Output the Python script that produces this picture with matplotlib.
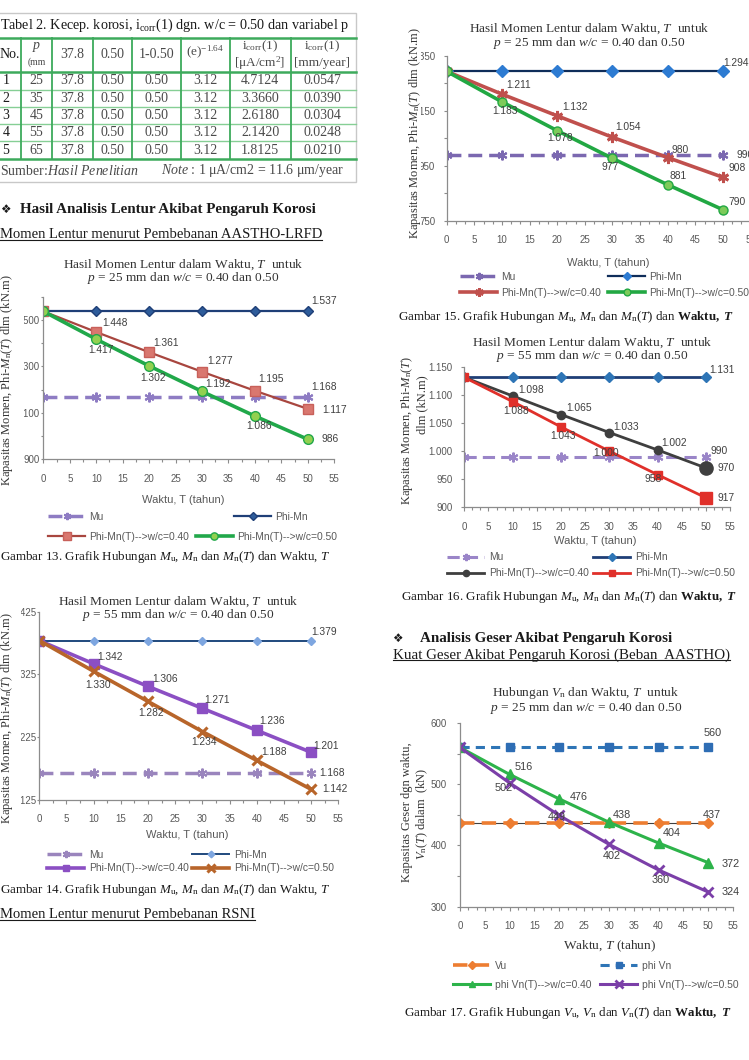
import matplotlib
matplotlib.use("Agg")
import matplotlib.pyplot as plt
from matplotlib.legend import Legend
from matplotlib.patches import Rectangle
from matplotlib.ticker import FixedLocator, FuncFormatter, MultipleLocator
from matplotlib.transforms import Bbox, TransformedBbox

plt.rcParams['font.family'] = ['Liberation Sans', 'DejaVu Sans']
plt.rcParams['mathtext.fontset'] = 'custom'
plt.rcParams['mathtext.rm'] = 'Liberation Serif'
plt.rcParams['mathtext.it'] = 'Liberation Serif:italic'
plt.rcParams['mathtext.bf'] = 'Liberation Serif:bold'
try:
    plt.rcParams['mathtext.bfit'] = 'Liberation Serif:italic:bold'
    BFIT = True
except KeyError:
    BFIT = False

# ---------------- data ----------------
T_YEARS = [0, 10, 20, 30, 40, 50]

G13_MU = [1168, 1168, 1168, 1168, 1168, 1168]
G13_PHI_MN = [1537, 1537, 1537, 1537, 1537, 1537]
G13_WC040 = [1537, 1448, 1361, 1277, 1195, 1117]
G13_WC050 = [1537, 1417, 1302, 1192, 1086, 986]

G14_MU = [1168, 1168, 1168, 1168, 1168, 1168]
G14_PHI_MN = [1379, 1379, 1379, 1379, 1379, 1379]
G14_WC040 = [1379, 1342, 1306, 1271, 1236, 1201]
G14_WC050 = [1379, 1330, 1282, 1234, 1188, 1142]

G15_MU = [990, 990, 990, 990, 990, 990]
G15_PHI_MN = [1294, 1294, 1294, 1294, 1294, 1294]
G15_WC040 = [1294, 1211, 1132, 1054, 980, 908]
G15_WC050 = [1294, 1183, 1078, 977, 881, 790]

G16_MU = [990, 990, 990, 990, 990, 990]
G16_PHI_MN = [1131, 1131, 1131, 1131, 1131, 1131]
G16_WC040 = [1131, 1098, 1065, 1033, 1002, 970]
G16_WC050 = [1131, 1088, 1043, 1000, 958, 917]

G17_VU = [437, 437, 437, 437, 437, 437]
G17_PHI_VN = [560, 560, 560, 560, 560, 560]
G17_WC040 = [560, 516, 476, 438, 404, 372]
G17_WC050 = [560, 502, 449, 402, 360, 324]

TABLE_NO = [1, 2, 3, 4, 5]
TABLE_P = [25, 35, 45, 55, 65]
TABLE_C = [37.8, 37.8, 37.8, 37.8, 37.8]
TABLE_WC = [0.50, 0.50, 0.50, 0.50, 0.50]
TABLE_1WC = [0.50, 0.50, 0.50, 0.50, 0.50]
TABLE_E = [3.12, 3.12, 3.12, 3.12, 3.12]
TABLE_ICORR_UA = ["4.7124", "3.3660", "2.6180", "2.1420", "1.8125"]
TABLE_ICORR_MM = ["0.0547", "0.0390", "0.0304", "0.0248", "0.0210"]

# ---------------- page ----------------
W, H = 749, 1060
SERIF = ['Liberation Serif', 'DejaVu Serif']
SANS = ['Liberation Sans', 'DejaVu Sans']
TICK_C = '#595959'
LBL_C = '#404040'
PT = 72 / 100  # points per pixel

fig = plt.figure(figsize=(W / 100, H / 100), dpi=100)
fig.patch.set_facecolor('white')
page = fig.add_axes([0, 0, 1, 1])
page.set_xlim(0, W)
page.set_ylim(H, 0)
page.axis('off')
page.set_zorder(0)


def ptext(x, y, s, size=9, family=SERIF, ha='left', va='center', color='#1a1a1a', **kw):
    return page.text(x, y, s, fontsize=size, family=family, ha=ha, va=va, color=color, **kw)


def fmt(v):
    return f"{v:,}".replace(",", ".")


# ---------------- table ----------------
GREEN = '#3DAA5C'
GREEN_L = '#86CF95'
TXT_T = '#4a4a4a'
page.add_patch(Rectangle((-2, 12.7), 358, 169, fill=False, ec='#C8C8C8', lw=1.0))
col_x = [-2, 20.7, 52.3, 92.7, 132.3, 181, 230, 290.7, 356]
row_y = [38.3, 71.7, 89.5, 106.8, 124.0, 141.2, 158.7]
for i, y in enumerate(row_y):
    thick = i in (0, 1, len(row_y) - 1)
    page.plot([-2, 356], [y, y], color=GREEN if thick else GREEN_L, lw=1.8 if thick else 1.0)
for x in col_x[1:-1]:
    page.plot([x, x], [38.3, 158.7], color=GREEN, lw=1.3)

TS = 10
ptext(0, 25, "Tabel 2. Kecep. korosi, i$_{\\mathrm{corr}}$(1) dgn. w/c = 0.50 dan variabel p", size=10.2)
hy = 55
ptext(0, hy, "No.", size=TS)
ptext(36.5, 46.7, "$p$", size=TS, ha='center', color=TXT_T)
ptext(36.5, 61.7, "(mm", size=7, ha='center', color=TXT_T)
ptext(72.5, hy, "37.8", size=TS, ha='center', color=TXT_T)
ptext(112.5, hy, "0.50", size=TS, ha='center', color=TXT_T)
ptext(156.7, hy, "1-0.50", size=TS, ha='center', color=TXT_T)
ptext(205.5, 52.7, "(e)$^{-1.64}$", size=9.5, ha='center', color=TXT_T)
ptext(260, 46.7, "i$_{\\mathrm{corr}}$(1)", size=9.5, ha='center', color=TXT_T)
ptext(260, 63.3, "[$\\mathrm{\\mu}$A/cm$^2$]", size=9.5, ha='center', color=TXT_T)
ptext(322, 46.7, "i$_{\\mathrm{corr}}$(1)", size=9.5, ha='center', color=TXT_T)
ptext(322, 63.3, "[mm/year]", size=9.5, ha='center', color=TXT_T)
row_c = [80.7, 98.3, 115.7, 132.7, 150.0]
for i in range(5):
    y = row_c[i]
    ptext(6, y, str(TABLE_NO[i]), size=TS, ha='center')
    ptext(36.5, y, str(TABLE_P[i]), size=TS, ha='center', color=TXT_T)
    ptext(72.5, y, f"{TABLE_C[i]:.1f}", size=TS, ha='center', color=TXT_T)
    ptext(112.5, y, f"{TABLE_WC[i]:.2f}", size=TS, ha='center', color=TXT_T)
    ptext(156.7, y, f"{TABLE_1WC[i]:.2f}", size=TS, ha='center', color=TXT_T)
    ptext(205.5, y, f"{TABLE_E[i]:.2f}", size=TS, ha='center', color=TXT_T)
    ptext(260, y, TABLE_ICORR_UA[i], size=TS, ha='center', color=TXT_T)
    ptext(322, y, TABLE_ICORR_MM[i], size=TS, ha='center', color=TXT_T)
ptext(0, 170.7, "Sumber:$\\mathit{Hasil\\ Penelitian}$", size=TS, color=TXT_T)
ptext(161, 170.7, "$\\mathit{Note}$ : 1 $\\mathrm{\\mu}$A/cm2 = 11.6 $\\mathrm{\\mu}$m/year", size=TS, color=TXT_T)

# ---------------- section headings ----------------
underlines = []
ptext(0, 209.3, "\u2756", size=8.5, family=['DejaVu Sans'])
ptext(20, 209.3, "Hasil Analisis Lentur Akibat Pengaruh Korosi", size=10.8, weight='bold')
underlines.append(ptext(0, 235, "Momen Lentur menurut Pembebanan AASTHO-LRFD", size=10.5))
underlines.append(ptext(0, 915, "Momen Lentur menurut Pembebanan RSNI", size=10.5))
ptext(392, 638.3, "\u2756", size=8.5, family=['DejaVu Sans'])
ptext(420, 638.3, "Analisis Geser Akibat Pengaruh Korosi", size=10.8, weight='bold')
underlines.append(ptext(393, 655, "Kuat Geser Akibat Pengaruh Korosi (Beban  AASTHO)", size=10.8))

# captions
CAP = 9.4
ptext(0, 556.7, "Gambar 13. Grafik Hubungan $M_{\\mathrm{u}}$, $M_{\\mathrm{n}}$ dan $M_{\\mathrm{n}}(T)$ dan Waktu, $T$", size=CAP)
ptext(0, 890, "Gambar 14. Grafik Hubungan $M_{\\mathrm{u}}$, $M_{\\mathrm{n}}$ dan $M_{\\mathrm{n}}(T)$ dan Waktu, $T$", size=CAP)
bt = "\\mathbfit{T}" if BFIT else "\\mathbf{T}"
ptext(398, 316.7, "Gambar 15. Grafik Hubungan $M_{\\mathrm{u}}$, $M_{\\mathrm{n}}$ dan $M_{\\mathrm{n}}(T)$ dan $\\mathbf{Waktu,}\\ " + bt + "$", size=CAP)
ptext(401, 596.7, "Gambar 16. Grafik Hubungan $M_{\\mathrm{u}}$, $M_{\\mathrm{n}}$ dan $M_{\\mathrm{n}}(T)$ dan $\\mathbf{Waktu,}\\ " + bt + "$", size=CAP)
ptext(404, 1012.7, "Gambar 17. Grafik Hubungan $V_{\\mathrm{u}}$, $V_{\\mathrm{n}}$ dan $V_{\\mathrm{n}}(T)$ dan $\\mathbf{Waktu,}\\ " + bt + "$", size=CAP)


# ---------------- charts ----------------
def make_ax(x0, x1, ytop, ybot, ylim, yticks, ylabels_every, xminor, yoff_px, clip_x=None):
    ax = fig.add_axes([x0 / W, 1 - ybot / H, (x1 - x0) / W, (ybot - ytop) / H])
    ax.set_zorder(2)
    ax.patch.set_alpha(0)
    ax.set_xlim(0, 55)
    ax.set_ylim(*ylim)
    for s in ('top', 'right'):
        ax.spines[s].set_visible(False)
    for s in ('left', 'bottom'):
        ax.spines[s].set_color('#8C8C8C')
        ax.spines[s].set_linewidth(0.9)
    ax.xaxis.set_major_locator(MultipleLocator(5))
    ax.xaxis.set_minor_locator(MultipleLocator(xminor))
    ax.yaxis.set_major_locator(FixedLocator(yticks))
    ax.yaxis.set_major_formatter(FuncFormatter(
        lambda v, p: fmt(int(round(v))) if int(round(v)) in ylabels_every else ''))
    ax.tick_params(axis='both', which='both', direction='out', color='#8C8C8C',
                   labelsize=7, labelcolor=TICK_C, width=0.8)
    ax.tick_params(axis='x', which='major', length=4 * PT, pad=10.4 * PT)
    ax.tick_params(axis='x', which='minor', length=3 * PT)
    ylen = min(3.0, yoff_px - 1)
    ax.tick_params(axis='y', which='major', length=ylen * PT, pad=(yoff_px - ylen) * PT)
    ax.tick_params(axis='y', which='minor', length=0)
    if clip_x is not None:
        bb = TransformedBbox(Bbox([[clip_x / W, 0], [1, 1]]), fig.transFigure)
        for lab in ax.get_yticklabels():
            lab.set_clip_box(bb)
            lab.set_clip_on(True)
    return ax


def annot(ax, x, y, text, dx, dy, size=7.4, ha='center'):
    ax.annotate(text, xy=(x, y), xytext=(dx, dy), textcoords='offset pixels',
                ha=ha, va='center', fontsize=size, color=LBL_C, family=SANS,
                annotation_clip=False)


def legend_entry(ax, line, label, x, y, hl=37, size=7.4):
    fs_px = size * 100 / 72
    leg = Legend(ax, [line], [label], loc='center left', bbox_to_anchor=(x / W, 1 - y / H),
                 bbox_transform=fig.transFigure, frameon=False, borderpad=0,
                 borderaxespad=0, handlelength=hl / fs_px, handletextpad=0.45,
                 numpoints=1, markerscale=0.75, prop={'family': SANS, 'size': size},
                 labelcolor=TICK_C)
    ax.add_artist(leg)


def title2(cx, y1, y2, l1, l2, size=9.6):
    ptext(cx, y1, l1, size=size, ha='center', color='#333333')
    ptext(cx, y2, l2, size=size, ha='center', color='#333333')


MU_MARK = (6, 2, 0)
YL = 9.0   # y-label size
XL = 8.0   # x-label size (sans)

# ---- Gambar 13 ----
ax13 = make_ax(43.3, 334.3, 296.7, 459.3, (900, 1600),
               [900, 1000, 1100, 1200, 1300, 1400, 1500, 1600], [900, 1100, 1300, 1500], 2.5, 3.5, clip_x=24.5)
l_mu = ax13.plot(T_YEARS, G13_MU, color='#8E7CC3', lw=2.5, ls=(0, (4, 2)), marker=MU_MARK, ms=7, mew=1.5)[0]
l_mn = ax13.plot(T_YEARS, G13_PHI_MN, color='#1F3F77', lw=1.6, marker='D', ms=5, mfc='#2E5C9A', mec='#1F3F77')[0]
l_40 = ax13.plot(T_YEARS, G13_WC040, color='#A8463F', lw=1.6, marker='s', ms=7, mfc='#D9776F', mec='#C8605A')[0]
l_50 = ax13.plot(T_YEARS, G13_WC050, color='#21A84A', lw=2.6, marker='o', ms=7, mfc='#92D050', mec='#21A84A')[0]
annot(ax13, T_YEARS[5], G13_PHI_MN[5], fmt(G13_PHI_MN[5]), 16, 10)
annot(ax13, T_YEARS[5], G13_MU[5], fmt(G13_MU[5]), 16, 10)
off40 = [None, (19, 9), (17, 9), (18, 11), (16, 12), (27, -1)]
off50 = [None, (5, -11), (4, -12), (16, 7), (4, -10), (22, 0)]
for i in range(1, 6):
    annot(ax13, T_YEARS[i], G13_WC040[i], fmt(G13_WC040[i]), *off40[i])
    annot(ax13, T_YEARS[i], G13_WC050[i], fmt(G13_WC050[i]), *off50[i])
title2(183, 265, 278, "Hasil Momen Lentur dalam Waktu, $T$  untuk",
       "$p$ = 25 mm dan $w/c$ = 0.40 dan 0.50")
ptext(7, 380, "Kapasitas Momen, Phi-$M_{\\mathrm{n}}(T)$ dlm (kN.m)", size=YL, ha='center', rotation=90, color='#333333')
ptext(183, 500, "Waktu, T (tahun)", size=XL, family=SANS, ha='center', color=TICK_C)
legend_entry(ax13, l_mu, "Mu", 48, 516.7)
legend_entry(ax13, l_mn, "Phi-Mn", 234, 516.7)
legend_entry(ax13, l_40, "Phi-Mn(T)-->w/c=0.40", 48, 536.7)
legend_entry(ax13, l_50, "Phi-Mn(T)-->w/c=0.50", 196, 536.7)

# ---- Gambar 14 ----
ax14 = make_ax(39.3, 338.3, 611.7, 800, (1125, 1425),
               [1125, 1225, 1325, 1425], [1125, 1225, 1325, 1425], 2.5, 2.8, clip_x=20.5)
l_mu = ax14.plot(T_YEARS, G14_MU, color='#9A85BD', lw=2.5, ls=(0, (4, 2)), marker=MU_MARK, ms=7, mew=1.5)[0]
l_mn = ax14.plot(T_YEARS, G14_PHI_MN, color='#1F497D', lw=1.4, marker='D', ms=4.5, mfc='#7EA6E0', mec='#7EA6E0')[0]
l_40 = ax14.plot(T_YEARS, G14_WC040, color='#8B4FC3', lw=2.6, marker='s', ms=6.5, mfc='#8B4FC3', mec='#8B4FC3')[0]
l_50 = ax14.plot(T_YEARS, G14_WC050, color='#B8652A', lw=2.6, marker='x', ms=7, mew=2.2, mec='#B8652A')[0]
annot(ax14, T_YEARS[5], G14_PHI_MN[5], fmt(G14_PHI_MN[5]), 13, 9)
annot(ax14, T_YEARS[5], G14_MU[5], fmt(G14_MU[5]), 21, 0)
off40 = [None, (16, 7), (17, 7), (15, 8), (15, 9), (15, 6)]
off50 = [None, (4, -14), (3, -12), (2, -10), (17, 8), (24, 0)]
for i in range(1, 6):
    annot(ax14, T_YEARS[i], G14_WC040[i], fmt(G14_WC040[i]), *off40[i])
    annot(ax14, T_YEARS[i], G14_WC050[i], fmt(G14_WC050[i]), *off50[i])
title2(178, 601.7, 615, "Hasil Momen Lentur dalam Waktu, $T$  untuk",
       "$p$ = 55 mm dan $w/c$ = 0.40 dan 0.50")
ptext(7, 718, "Kapasitas Momen, Phi-$M_{\\mathrm{n}}(T)$ dlm (kN.m)", size=YL, ha='center', rotation=90, color='#333333')
ptext(187, 835, "Waktu, T (tahun)", size=XL, family=SANS, ha='center', color=TICK_C)
legend_entry(ax14, l_mu, "Mu", 47, 855)
legend_entry(ax14, l_mn, "Phi-Mn", 192, 855)
legend_entry(ax14, l_40, "Phi-Mn(T)-->w/c=0.40", 47, 868.3)
legend_entry(ax14, l_50, "Phi-Mn(T)-->w/c=0.50", 192, 868.3)

# ---- Gambar 15 ----
ax15 = make_ax(446.7, 750.6, 56, 220.7, (750, 1350),
               [750, 850, 950, 1050, 1150, 1250, 1350], [750, 950, 1150, 1350], 5 / 3, 11.5, clip_x=421)
l_mu = ax15.plot(T_YEARS, G15_MU, color='#7B68B0', lw=2.5, ls=(0, (4, 2)), marker=MU_MARK, ms=7, mew=1.5)[0]
l_mn = ax15.plot(T_YEARS, G15_PHI_MN, color='#0F2D5A', lw=1.6, marker='D', ms=6, mfc='#2D7BD2', mec='#2D7BD2')[0]
l_40 = ax15.plot(T_YEARS, G15_WC040, color='#C0504D', lw=2.6, marker=MU_MARK, ms=8, mew=2, mec='#C0504D')[0]
l_50 = ax15.plot(T_YEARS, G15_WC050, color='#22A843', lw=2.6, marker='o', ms=6.5, mfc='#7DCB5A', mec='#22A843')[0]
annot(ax15, T_YEARS[5], G15_PHI_MN[5], fmt(G15_PHI_MN[5]), 13, 8)
annot(ax15, T_YEARS[5], G15_MU[5], fmt(G15_MU[5]), 14, 0, ha='left')
off40 = [None, (17, 9), (18, 9), (16, 10), (12, 8), (14, 9)]
off50 = [None, (3, -9), (3, -7), (-2, -9), (10, 9), (14, 8)]
for i in range(1, 6):
    annot(ax15, T_YEARS[i], G15_WC040[i], fmt(G15_WC040[i]), *off40[i])
    annot(ax15, T_YEARS[i], G15_WC050[i], fmt(G15_WC050[i]), *off50[i])
title2(589, 28.3, 43.3, "Hasil Momen Lentur dalam Waktu, $T$  untuk",
       "$p$ = 25 mm dan $w/c$ = 0.40 dan 0.50")
ptext(415, 133, "Kapasitas Momen, Phi-$M_{\\mathrm{n}}(T)$ dlm (kN.m)", size=YL, ha='center', rotation=90, color='#333333')
ptext(608, 263.3, "Waktu, T (tahun)", size=XL, family=SANS, ha='center', color=TICK_C)
legend_entry(ax15, l_mu, "Mu", 460, 276.7)
legend_entry(ax15, l_mn, "Phi-Mn", 608, 276.7)
legend_entry(ax15, l_40, "Phi-Mn(T)-->w/c=0.40", 460, 292.7)
legend_entry(ax15, l_50, "Phi-Mn(T)-->w/c=0.50", 608, 292.7)

# ---- Gambar 16 ----
ax16 = make_ax(464.3, 730, 366.7, 507.3, (900, 1150),
               [900, 950, 1000, 1050, 1100, 1150], [900, 950, 1000, 1050, 1100, 1150], 5 / 3, 12)
l_mu = ax16.plot(T_YEARS, G16_MU, color='#9A85C8', lw=2.2, ls=(0, (4, 2)), marker=MU_MARK, ms=7, mew=1.5)[0]
l_mn = ax16.plot(T_YEARS, G16_PHI_MN, color='#1F3F77', lw=2.0, marker='D', ms=5, mfc='#2E75B6', mec='#2E75B6')[0]
l_40 = ax16.plot(T_YEARS, G16_WC040, color='#3F3F3F', lw=2.0, marker='o', ms=6, mfc='#3F3F3F', mec='#3F3F3F')[0]
l_50 = ax16.plot(T_YEARS, G16_WC050, color='#E0302A', lw=2.0, marker='s', ms=6, mfc='#E0302A', mec='#E0302A')[0]
ax16.plot(T_YEARS[-1:], G16_WC040[-1:], ls='none', marker='o', ms=9.5, mfc='#3F3F3F', mec='#3F3F3F')
ax16.plot(T_YEARS[-1:], G16_WC050[-1:], ls='none', marker='s', ms=9, mfc='#E0302A', mec='#E0302A')
annot(ax16, T_YEARS[5], G16_PHI_MN[5], fmt(G16_PHI_MN[5]), 16, 7)
annot(ax16, T_YEARS[5], G16_MU[5], fmt(G16_MU[5]), 13, 6)
off40 = [None, (18, 6), (18, 7), (17, 6), (17, 7), (20, 0)]
off50 = [None, (3, -9), (2, -9), (-3, -2), (-4, -4), (20, 0)]
for i in range(1, 6):
    annot(ax16, T_YEARS[i], G16_WC040[i], fmt(G16_WC040[i]), *off40[i])
    annot(ax16, T_YEARS[i], G16_WC050[i], fmt(G16_WC050[i]), *off50[i])
title2(592, 342.3, 356, "Hasil Momen Lentur dalam Waktu, $T$  untuk",
       "$p$ = 55 mm dan $w/c$ = 0.40 dan 0.50")
ptext(407, 430, "Kapasitas Momen, Phi-$M_{\\mathrm{n}}(T)$", size=YL, ha='center', rotation=90, color='#333333')
ptext(422, 405, "dlm (kN.m)", size=YL, ha='center', rotation=90, color='#333333')
ptext(595, 541, "Waktu, T (tahun)", size=XL, family=SANS, ha='center', color=TICK_C)
legend_entry(ax16, l_mu, "Mu", 447, 557.3)
legend_entry(ax16, l_mn, "Phi-Mn", 593, 557.3)
legend_entry(ax16, l_40, "Phi-Mn(T)-->w/c=0.40", 447, 573.3)
legend_entry(ax16, l_50, "Phi-Mn(T)-->w/c=0.50", 593, 573.3)

# ---- Gambar 17 ----
ax17 = make_ax(460, 733, 723, 906.7, (300, 600), [300, 400, 500, 600], [300, 400, 500, 600], 5 / 3, 13)
ax17.yaxis.set_minor_locator(MultipleLocator(50))
ax17.tick_params(axis='y', which='minor', length=3 * PT)
ax17.plot(T_YEARS, G17_VU, color='#404040', lw=0.8)
l_vu = ax17.plot(T_YEARS, G17_VU, color='#ED7D31', lw=2.6, ls=(0, (4, 2)), marker='D', ms=5, mfc='#ED7D31', mec='#ED7D31')[0]
l_vn = ax17.plot(T_YEARS, G17_PHI_VN, color='#2E75B6', lw=2.2, ls=(0, (3, 2)), marker='s', ms=6, mfc='#2E6DB4', mec='#2E6DB4')[0]
l_40 = ax17.plot(T_YEARS, G17_WC040, color='#2DB34A', lw=2.2, marker='^', ms=6.5, mfc='#2DB34A', mec='#2DB34A')[0]
l_50 = ax17.plot(T_YEARS, G17_WC050, color='#7B3FA8', lw=2.2, marker='x', ms=7, mew=2, mec='#7B3FA8')[0]
annot(ax17, T_YEARS[5], G17_PHI_VN[5], fmt(G17_PHI_VN[5]), 4, 14, size=7.8)
annot(ax17, T_YEARS[5], G17_VU[5], fmt(G17_VU[5]), 4, 8, size=7.8)
off40 = [None, (14, 7), (19, 2), (13, 7), (13, 10), (22, -1)]
off50 = [None, (-6, -5), (-3, -2), (3, -12), (2, -10), (22, 0)]
for i in range(1, 6):
    annot(ax17, T_YEARS[i], G17_WC040[i], fmt(G17_WC040[i]), *off40[i], size=7.8)
    annot(ax17, T_YEARS[i], G17_WC050[i], fmt(G17_WC050[i]), *off50[i], size=7.8)
title2(586, 692.7, 708.3, "Hubungan $V_{\\mathrm{n}}$ dan Waktu, $T$  untuk",
       "$p$ = 25 mm dan $w/c$ = 0.40 dan 0.50")
ptext(407, 812, "Kapasitas Geser dgn waktu,", size=YL, ha='center', rotation=90, color='#333333')
ptext(422, 814, "$V_{\\mathrm{n}}(T)$ dalam  (kN)", size=YL, ha='center', rotation=90, color='#333333')
ptext(610, 946.7, "Waktu, $T$ (tahun)", size=9.6, ha='center', color='#333333')
legend_entry(ax17, l_vu, "Vu", 453, 966)
legend_entry(ax17, l_vn, "phi Vn", 600, 966)
legend_entry(ax17, l_40, "phi Vn(T)-->w/c=0.40", 453, 985)
legend_entry(ax17, l_50, "phi Vn(T)-->w/c=0.50", 600, 985)

# underlines for underlined headings
fig.canvas.draw()
inv = page.transData.inverted()
for t in underlines:
    bb = t.get_window_extent()
    (x0, y0), (x1, y1) = inv.transform([(bb.x0, bb.y0), (bb.x1, bb.y1)])
    page.plot([x0, x1], [y0 - 1.5, y0 - 1.5], color='#1a1a1a', lw=0.8)

fig.savefig("out.png", dpi=100, facecolor='white')
